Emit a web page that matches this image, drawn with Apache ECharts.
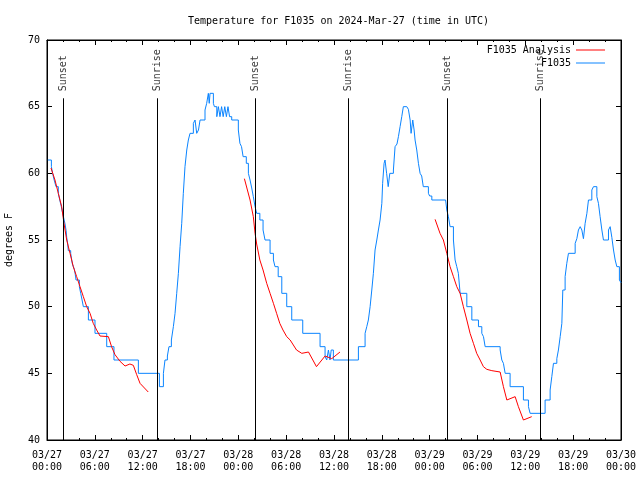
<!DOCTYPE html>
<html>
<head>
<meta charset="utf-8">
<script src="https://cdn.jsdelivr.net/npm/echarts@6/dist/echarts.min.js"></script>
<style>html,body{margin:0;padding:0;background:#fff}#c{width:640px;height:480px}</style>
</head>
<body>
<div id="c"></div>
<script>
var titleText = 'Temperature for F1035 on 2024-Mar-27 (time in UTC)';
var yName = 'degrees F';
var tickLabels = ['03/27\n00:00','03/27\n06:00','03/27\n12:00','03/27\n18:00','03/28\n00:00','03/28\n06:00','03/28\n12:00','03/28\n18:00','03/29\n00:00','03/29\n06:00','03/29\n12:00','03/29\n18:00','03/30\n00:00'];
var sunNames = ['Sunset','Sunrise','Sunset','Sunrise','Sunset','Sunrise'];
var sunHours = [2.05, 13.84, 26.1, 37.8, 50.23, 61.86];
var sunTop = 65.63;

// hours since 03/27 00:00 UTC, degrees F (observations, stepped)
var obsHours = [0.1,0.55,0.7,0.9,1.13,1.42,1.6,1.76,1.97,2.15,2.26,2.4,2.47,2.6,2.67,2.97,3.1,3.18,3.43,3.55,3.64,4.06,4.23,4.4,4.56,5.19,6.02,7.49,8.4,11.46,14.1,14.6,14.8,15.1,15.3,15.6,15.85,16.06,16.27,16.48,16.69,16.9,17.1,17.31,17.53,17.73,17.94,18.36,18.57,18.78,19.0,19.2,19.82,20.03,20.24,20.35,20.45,20.87,21.0,21.3,21.5,21.7,21.9,22.1,22.3,22.5,22.7,22.9,23.17,24.0,24.2,24.4,24.6,25.0,25.26,25.47,25.68,25.88,26.1,26.3,26.7,27.1,27.35,27.98,28.4,28.6,29.0,29.45,30.07,30.7,32.08,34.25,34.88,35.09,35.3,35.5,35.65,35.92,39.06,39.9,40.11,40.31,40.53,40.74,40.94,41.15,41.37,41.57,41.78,42.0,42.1,42.28,42.4,42.6,42.8,43.0,43.45,43.66,43.9,44.08,44.29,44.5,44.7,45.13,45.33,45.55,45.67,45.88,46.05,46.17,46.38,46.59,46.8,47.0,47.2,47.84,48.0,48.27,50.0,50.15,50.35,50.56,50.98,51.19,51.4,51.6,51.82,52.66,53.29,54.12,54.54,54.75,54.96,56.84,57.05,57.25,57.47,58.09,59.76,60.39,60.6,62.48,63.11,63.32,63.53,63.95,64.15,64.37,64.58,64.7,64.99,65.2,65.41,66.25,66.46,66.66,66.88,67.09,67.29,67.5,67.72,67.92,68.34,68.55,68.97,69.17,69.38,69.6,69.8,70.43,70.64,70.85,71.06,71.27,71.48,71.8,72.0];
var obsTemps = [61,60.5,60,59.5,59,58.5,58,57.6,57,56.5,56.2,55.7,55.2,54.7,54.2,54,53.5,53.2,52.8,52.4,52,51.5,51,50.5,50,49,48,47,46,45,44,45,46,46.3,47,47.5,48.5,49.5,51,52.5,54.5,56.25,58.5,60.5,61.75,62.5,63,63.75,64,63,63.25,64,64.75,65.25,66,65.25,66,65.25,65,64.25,65,64.25,65,64.25,65,64.25,65,64.25,64,63.25,62.25,62,61.25,60.75,60,59.5,58.9,58.25,57.5,57,56.5,55.75,55,54,53.5,53,52.25,51,50,49,48,47,46.25,46,46.75,46,46.75,46,47,48,48.5,49,50,51.25,52.5,54.25,55,55.75,56.5,57.75,59.25,60.75,61,60,59,60,60.25,62,62.2,62.75,63.5,64.25,65,65,64.8,64,63,64,63.25,62.5,61.75,60.75,60,59.8,59,58.5,58.3,58,57.9,57.25,56.75,56,55,53.5,53,52.5,51,50,49,48.5,48,47.75,47,46.75,46,45.75,45,44,43,42.5,42,43,43.75,44.75,45.75,46.1,46.75,47.75,48.75,51.25,52.25,53.25,54,54.75,55.1,55.75,56,55.75,55.1,56.25,57,58,58.75,59,58.25,57.75,56.75,55.75,55,55.75,56,55.2,54.25,53.5,53,52,51.8];

// analysis segments (null separates runs)
var anaHours = [0.5,1.0,1.42,1.84,2.13,2.47,2.89,3.3,3.72,4.14,4.56,4.98,5.4,5.8,6.23,6.65,7.7,8.1,8.53,9.16,9.79,10.4,10.83,11.25,11.67,12.7,18,
  24.76,25.47,25.88,26.1,26.3,26.7,27.1,27.56,27.98,28.4,28.8,29.2,29.6,30.07,30.5,31.3,31.96,32.8,33.8,34.88,35.72,36.75,42,
  48.68,49.3,49.72,50.15,50.56,50.98,51.4,51.82,52.23,52.66,53.07,53.49,53.9,54.33,54.74,55.17,55.8,56.84,57.25,57.68,58.72,59.13,59.76,60.8];
var anaTemps = [60.4,59.5,58.5,57.5,56.25,55,54,53,52.25,51.5,50.75,50,49.5,48.75,48.25,47.8,47.75,47,46.4,45.9,45.55,45.7,45.6,44.9,44.25,43.6,null,
  59.6,58,56.75,55.5,54.7,53.5,52.75,51.75,51,50.25,49.5,48.75,48.25,47.75,47.5,46.75,46.5,46.6,45.5,46.3,46.1,46.6,null,
  56.55,55.5,55,54,53,52.25,51.5,51,50,49,48,47.25,46.5,46,45.5,45.3,45.2,45.1,44,43,43.25,42.5,41.5,41.75];

var FONT = 'DejaVu Sans Mono';
var chart = echarts.init(document.getElementById('c'), null, {renderer:'canvas'});

function axisCommon(extra){
  var base = {
    axisLine:{show:true, onZero:false, lineStyle:{color:'#000', width:1}},
    axisTick:{show:true, inside:true, length:5, lineStyle:{color:'#000'}},
    splitLine:{show:false},
    axisLabel:{color:'#000', fontFamily:FONT, fontSize:10}
  };
  for (var k in extra) base[k] = extra[k];
  return base;
}

var obsData = obsHours.map(function(h,i){return [h, obsTemps[i]];});
var anaData = anaHours.map(function(h,i){return anaTemps[i]===null ? [h, null] : [h, anaTemps[i]];});
var sunLabelData = sunHours.map(function(h,i){return {name: sunNames[i], value:[h, sunTop]};});
var sunLines = sunHours.map(function(h){return [{coord:[h,40]},{coord:[h,sunTop]}];});

var option = {
  animation:false,
  backgroundColor:'#fff',
  title:{text:titleText, left:183, top:11, textStyle:{fontFamily:FONT, fontSize:10, fontWeight:'normal', color:'#000'}},
  grid:{left:47, right:19, top:40, bottom:40, show:true, borderColor:'#000', borderWidth:1, containLabel:false, outerBoundsMode:'none'},
  legend:[
    {data:['F1035 Analysis'], right:30, top:40, orient:'vertical', align:'right', icon:'rect', itemWidth:29, itemHeight:1, textStyle:{fontFamily:FONT, fontSize:10, color:'#000'}, selectedMode:false},
    {data:['F1035'], right:30, top:53, orient:'vertical', align:'right', icon:'rect', itemWidth:29, itemHeight:1, textStyle:{fontFamily:FONT, fontSize:10, color:'#000'}, selectedMode:false}
  ],
  xAxis:[
    axisCommon({type:'value', min:0, max:72, interval:6, position:'bottom',
      minorTick:{show:true, splitNumber:3, length:2, lineStyle:{color:'#000'}},
      axisLabel:{color:'#000', fontFamily:FONT, fontSize:10, margin:9, lineHeight:12,
        formatter:function(v){var i=Math.round(v/6); return tickLabels[i]||'';}}}),
    axisCommon({type:'value', min:0, max:72, interval:6, position:'top',
      minorTick:{show:true, splitNumber:3, length:2, lineStyle:{color:'#000'}},
      axisLabel:{show:false}})
  ],
  yAxis:[
    axisCommon({type:'value', min:40, max:70, interval:5, position:'left', name:yName, nameLocation:'middle', nameGap:33,
      nameTextStyle:{fontFamily:FONT, fontSize:10, color:'#000'},
      axisLabel:{color:'#000', fontFamily:FONT, fontSize:10, margin:7}}),
    axisCommon({type:'value', min:40, max:70, interval:5, position:'right', axisLabel:{show:false}})
  ],
  series:[
    {name:'F1035 Analysis', type:'line', data:anaData, showSymbol:false, connectNulls:false,
     lineStyle:{color:'#ff0000', width:1}, itemStyle:{color:'#ff0000'}, z:3},
    {name:'F1035', type:'line', step:'end', data:obsData, showSymbol:false,
     lineStyle:{color:'#0a84ff', width:1}, itemStyle:{color:'#0a84ff'}, z:2},
    {name:'sun', type:'scatter', data:sunLabelData, symbolSize:0, silent:true, z:4,
     label:{show:true, position:'top', distance:7, rotate:90, align:'left', verticalAlign:'middle',
       formatter:function(p){return p.name;}, fontFamily:FONT, fontSize:10, color:'#000'},
     markLine:{silent:true, symbol:['none','none'], label:{show:false},
       lineStyle:{color:'#000', width:1, type:'solid'}, data:sunLines}}
  ]
};
chart.setOption(option);
</script>
</body>
</html>
